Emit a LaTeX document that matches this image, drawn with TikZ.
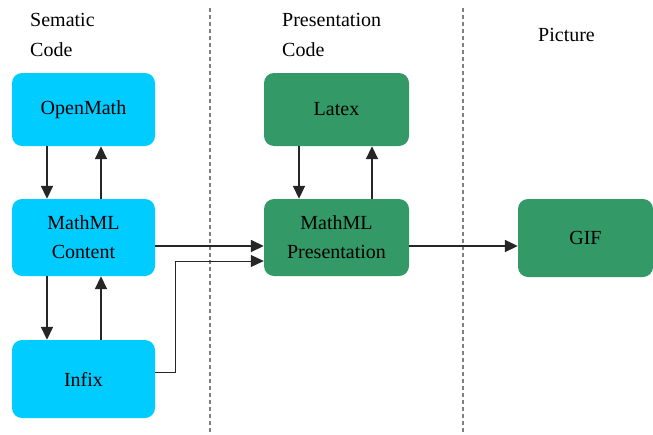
\documentclass[tikz,border=0pt]{standalone}
\usepackage{fontspec}
\setmainfont{Liberation Serif}
\usetikzlibrary{arrows.meta}
\definecolor{boxcyan}{HTML}{00CCFF}
\definecolor{boxgreen}{HTML}{339966}
\definecolor{divgray}{HTML}{808080}
\begin{document}
\begin{tikzpicture}[x=1pt,y=-1pt,
  box/.style={rounded corners=10pt, minimum width=143pt, align=center, inner sep=0pt,
    font=\fontsize{20}{29}\selectfont},
  cbox/.style={box, fill=boxcyan},
  gbox/.style={box, fill=boxgreen},
  arr/.style={-{Triangle[length=13pt,width=12pt]}, line width=1.8pt, black!85},
  thinarr/.style={-{Triangle[length=13pt,width=12pt]}, line width=1pt, black!85},
  divider/.style={divgray, line width=1.3pt, dash pattern=on 4pt off 3pt},
  head/.style={font=\fontsize{20}{30}\selectfont, align=left, inner sep=0pt}
]
\useasboundingbox (0,0) rectangle (653,434);
% dividers
\draw[divider] (210,8) -- (210,434);
\draw[divider] (463,8) -- (463,434);
% headings
\node[head, anchor=west] (h1) at (30,35) {Sematic\\Code};
\node[head, anchor=west] (h2) at (282,35) {Presentation\\Code};
\node[head, anchor=west] (h3) at (538,35) {Picture};
% boxes
\node[cbox, minimum height=73pt] (om) at (83.5,109.5) {OpenMath};
\node[cbox, minimum height=77pt] (mc) at (83.5,237.5) {MathML\\Content};
\node[cbox, minimum height=78pt] (ix) at (83.5,379) {Infix};
\node[gbox, minimum width=145pt, minimum height=73pt] (lx) at (336.5,109.5) {Latex};
\node[gbox, minimum width=145pt, minimum height=77pt] (mp) at (336.5,237.5) {MathML\\Presentation};
\node[gbox, minimum width=135pt, minimum height=78pt] (gif) at (585.5,238) {GIF};
% vertical arrows
\draw[arr] ([xshift=-36.5pt]om.south) -- ([xshift=-36.5pt]mc.north);
\draw[arr] ([xshift=17.5pt]mc.north) -- ([xshift=17.5pt]om.south);
\draw[arr] ([xshift=-36.5pt]mc.south) -- ([xshift=-36.5pt]ix.north);
\draw[arr] ([xshift=17.5pt]ix.north) -- ([xshift=17.5pt]mc.south);
\draw[arr] ([xshift=-37.5pt]lx.south) -- ([xshift=-37.5pt]mp.north);
\draw[arr] ([xshift=35.5pt]mp.north) -- ([xshift=35.5pt]lx.south);
% horizontal arrows
\draw[arr] ([yshift=-8.5pt]mc.east) -- ([yshift=-8.5pt]mp.west);
\draw[thinarr] ([yshift=7pt]ix.east) -- ++(20,0) |- ([yshift=-23.5pt]mp.west);
\draw[arr] ([yshift=-8.5pt]mp.east) -- ([yshift=-8pt]gif.west);
\end{tikzpicture}
\end{document}
